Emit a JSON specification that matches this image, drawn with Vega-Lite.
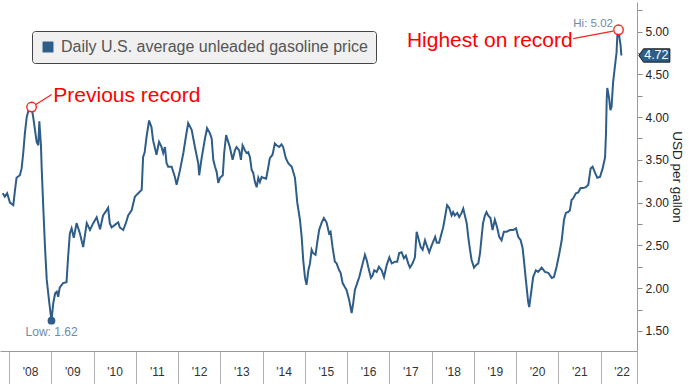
{
  "$schema": "https://vega.github.io/schema/vega-lite/v6.json",
  "width": 637,
  "height": 349,
  "autosize": {"type": "none"},
  "padding": {"left": 0, "top": 2, "right": 54, "bottom": 33},
  "background": "white",
  "config": {"view": {"stroke": null}, "font": "Liberation Sans"},
  "datasets": {
    "price": [
      {"date": "2007-11-07", "value": 3.11}, {"date": "2007-11-26", "value": 3.07}, {"date": "2007-12-16", "value": 3.11},
      {"date": "2008-01-09", "value": 3.00}, {"date": "2008-02-07", "value": 2.97}, {"date": "2008-02-22", "value": 3.15},
      {"date": "2008-03-06", "value": 3.29}, {"date": "2008-04-04", "value": 3.32}, {"date": "2008-04-19", "value": 3.40},
      {"date": "2008-05-03", "value": 3.58}, {"date": "2008-05-17", "value": 3.81}, {"date": "2008-06-02", "value": 4.00},
      {"date": "2008-06-24", "value": 4.11}, {"date": "2008-07-14", "value": 4.114}, {"date": "2008-07-28", "value": 4.00},
      {"date": "2008-08-27", "value": 3.71}, {"date": "2008-09-10", "value": 3.67}, {"date": "2008-09-19", "value": 3.95},
      {"date": "2008-10-03", "value": 3.67}, {"date": "2008-10-09", "value": 3.42}, {"date": "2008-10-23", "value": 2.95},
      {"date": "2008-11-07", "value": 2.48}, {"date": "2008-11-22", "value": 2.10}, {"date": "2008-12-14", "value": 1.83},
      {"date": "2009-01-02", "value": 1.62}, {"date": "2009-01-18", "value": 1.83}, {"date": "2009-02-03", "value": 1.94},
      {"date": "2009-02-17", "value": 1.96}, {"date": "2009-03-01", "value": 1.90}, {"date": "2009-03-15", "value": 2.01},
      {"date": "2009-04-13", "value": 2.06}, {"date": "2009-05-12", "value": 2.07}, {"date": "2009-05-26", "value": 2.37},
      {"date": "2009-06-10", "value": 2.64}, {"date": "2009-06-25", "value": 2.70}, {"date": "2009-07-14", "value": 2.59},
      {"date": "2009-08-07", "value": 2.76}, {"date": "2009-09-05", "value": 2.64}, {"date": "2009-10-03", "value": 2.48},
      {"date": "2009-11-03", "value": 2.76}, {"date": "2009-12-01", "value": 2.68}, {"date": "2009-12-29", "value": 2.76},
      {"date": "2010-01-28", "value": 2.83}, {"date": "2010-02-26", "value": 2.69}, {"date": "2010-03-24", "value": 2.85},
      {"date": "2010-04-23", "value": 2.91}, {"date": "2010-05-07", "value": 2.94}, {"date": "2010-05-21", "value": 2.76},
      {"date": "2010-06-06", "value": 2.71}, {"date": "2010-07-04", "value": 2.74}, {"date": "2010-08-02", "value": 2.77},
      {"date": "2010-08-16", "value": 2.71}, {"date": "2010-09-14", "value": 2.68}, {"date": "2010-10-07", "value": 2.76},
      {"date": "2010-10-27", "value": 2.85}, {"date": "2010-11-26", "value": 2.91}, {"date": "2010-12-24", "value": 3.07},
      {"date": "2011-01-22", "value": 3.11}, {"date": "2011-02-21", "value": 3.15}, {"date": "2011-03-05", "value": 3.53},
      {"date": "2011-03-19", "value": 3.59}, {"date": "2011-04-04", "value": 3.77}, {"date": "2011-04-26", "value": 3.96},
      {"date": "2011-05-17", "value": 3.88}, {"date": "2011-05-30", "value": 3.73}, {"date": "2011-06-29", "value": 3.56},
      {"date": "2011-07-21", "value": 3.71}, {"date": "2011-08-12", "value": 3.65}, {"date": "2011-08-26", "value": 3.58},
      {"date": "2011-09-10", "value": 3.65}, {"date": "2011-09-24", "value": 3.46}, {"date": "2011-10-08", "value": 3.42},
      {"date": "2011-11-07", "value": 3.42}, {"date": "2011-12-05", "value": 3.30}, {"date": "2011-12-20", "value": 3.21},
      {"date": "2012-01-18", "value": 3.38}, {"date": "2012-02-16", "value": 3.58}, {"date": "2012-03-09", "value": 3.77},
      {"date": "2012-03-29", "value": 3.93}, {"date": "2012-04-28", "value": 3.85}, {"date": "2012-05-26", "value": 3.65},
      {"date": "2012-06-24", "value": 3.46}, {"date": "2012-07-02", "value": 3.32}, {"date": "2012-07-23", "value": 3.52},
      {"date": "2012-08-21", "value": 3.75}, {"date": "2012-09-08", "value": 3.87}, {"date": "2012-10-03", "value": 3.81},
      {"date": "2012-10-18", "value": 3.75}, {"date": "2012-11-01", "value": 3.50}, {"date": "2012-11-16", "value": 3.42},
      {"date": "2012-11-30", "value": 3.36}, {"date": "2012-12-14", "value": 3.23}, {"date": "2012-12-29", "value": 3.29},
      {"date": "2013-01-22", "value": 3.32}, {"date": "2013-02-03", "value": 3.58}, {"date": "2013-02-20", "value": 3.79},
      {"date": "2013-03-10", "value": 3.71}, {"date": "2013-03-24", "value": 3.65}, {"date": "2013-04-17", "value": 3.50},
      {"date": "2013-05-07", "value": 3.61}, {"date": "2013-05-21", "value": 3.65}, {"date": "2013-06-13", "value": 3.61},
      {"date": "2013-06-28", "value": 3.50}, {"date": "2013-07-12", "value": 3.67}, {"date": "2013-08-02", "value": 3.61},
      {"date": "2013-08-16", "value": 3.58}, {"date": "2013-08-30", "value": 3.59}, {"date": "2013-09-14", "value": 3.53},
      {"date": "2013-09-29", "value": 3.38}, {"date": "2013-10-12", "value": 3.35}, {"date": "2013-10-27", "value": 3.24},
      {"date": "2013-11-11", "value": 3.18}, {"date": "2013-11-25", "value": 3.29}, {"date": "2013-12-09", "value": 3.24},
      {"date": "2013-12-24", "value": 3.30}, {"date": "2014-01-08", "value": 3.29}, {"date": "2014-02-01", "value": 3.28},
      {"date": "2014-02-20", "value": 3.42}, {"date": "2014-03-05", "value": 3.52}, {"date": "2014-03-28", "value": 3.56},
      {"date": "2014-04-17", "value": 3.69}, {"date": "2014-05-02", "value": 3.67}, {"date": "2014-05-24", "value": 3.65},
      {"date": "2014-06-14", "value": 3.68}, {"date": "2014-06-28", "value": 3.65}, {"date": "2014-07-21", "value": 3.52},
      {"date": "2014-08-11", "value": 3.46}, {"date": "2014-09-10", "value": 3.42}, {"date": "2014-10-08", "value": 3.29},
      {"date": "2014-10-28", "value": 3.00}, {"date": "2014-11-20", "value": 2.80}, {"date": "2014-12-05", "value": 2.60},
      {"date": "2014-12-19", "value": 2.32}, {"date": "2015-01-03", "value": 2.12}, {"date": "2015-01-16", "value": 2.04},
      {"date": "2015-02-01", "value": 2.21}, {"date": "2015-02-15", "value": 2.29}, {"date": "2015-03-01", "value": 2.45},
      {"date": "2015-03-14", "value": 2.41}, {"date": "2015-04-04", "value": 2.39}, {"date": "2015-04-18", "value": 2.53},
      {"date": "2015-05-05", "value": 2.68}, {"date": "2015-05-25", "value": 2.76}, {"date": "2015-06-15", "value": 2.82},
      {"date": "2015-07-08", "value": 2.77}, {"date": "2015-07-30", "value": 2.64}, {"date": "2015-08-12", "value": 2.66},
      {"date": "2015-08-29", "value": 2.48}, {"date": "2015-09-18", "value": 2.31}, {"date": "2015-10-03", "value": 2.29},
      {"date": "2015-10-25", "value": 2.21}, {"date": "2015-11-07", "value": 2.18}, {"date": "2015-11-24", "value": 2.06},
      {"date": "2015-12-14", "value": 2.01}, {"date": "2015-12-28", "value": 1.98}, {"date": "2016-01-20", "value": 1.86},
      {"date": "2016-02-10", "value": 1.71}, {"date": "2016-02-24", "value": 1.83}, {"date": "2016-03-09", "value": 1.98},
      {"date": "2016-03-29", "value": 2.06}, {"date": "2016-04-16", "value": 2.13}, {"date": "2016-05-06", "value": 2.24},
      {"date": "2016-06-04", "value": 2.39}, {"date": "2016-06-19", "value": 2.33}, {"date": "2016-07-02", "value": 2.25},
      {"date": "2016-07-26", "value": 2.12}, {"date": "2016-08-10", "value": 2.15}, {"date": "2016-08-23", "value": 2.21},
      {"date": "2016-09-14", "value": 2.19}, {"date": "2016-10-03", "value": 2.25}, {"date": "2016-10-26", "value": 2.21},
      {"date": "2016-11-16", "value": 2.13}, {"date": "2016-12-09", "value": 2.27}, {"date": "2017-01-01", "value": 2.36},
      {"date": "2017-01-22", "value": 2.29}, {"date": "2017-02-20", "value": 2.31}, {"date": "2017-03-10", "value": 2.31},
      {"date": "2017-03-27", "value": 2.41}, {"date": "2017-04-17", "value": 2.42}, {"date": "2017-05-07", "value": 2.35},
      {"date": "2017-05-24", "value": 2.38}, {"date": "2017-06-13", "value": 2.29}, {"date": "2017-06-28", "value": 2.24},
      {"date": "2017-07-21", "value": 2.29}, {"date": "2017-08-10", "value": 2.36}, {"date": "2017-08-25", "value": 2.66},
      {"date": "2017-09-08", "value": 2.59}, {"date": "2017-09-29", "value": 2.48}, {"date": "2017-10-16", "value": 2.45},
      {"date": "2017-11-05", "value": 2.56}, {"date": "2017-11-25", "value": 2.48}, {"date": "2017-12-12", "value": 2.42},
      {"date": "2018-01-02", "value": 2.50}, {"date": "2018-02-01", "value": 2.60}, {"date": "2018-02-15", "value": 2.53},
      {"date": "2018-03-07", "value": 2.53}, {"date": "2018-03-28", "value": 2.64}, {"date": "2018-04-11", "value": 2.71},
      {"date": "2018-04-26", "value": 2.82}, {"date": "2018-05-15", "value": 2.97}, {"date": "2018-06-02", "value": 2.94},
      {"date": "2018-06-23", "value": 2.85}, {"date": "2018-07-06", "value": 2.89}, {"date": "2018-07-21", "value": 2.85},
      {"date": "2018-08-11", "value": 2.88}, {"date": "2018-08-28", "value": 2.83}, {"date": "2018-09-18", "value": 2.88},
      {"date": "2018-10-02", "value": 2.93}, {"date": "2018-10-16", "value": 2.85}, {"date": "2018-11-01", "value": 2.76},
      {"date": "2018-11-14", "value": 2.60}, {"date": "2018-11-29", "value": 2.45}, {"date": "2018-12-13", "value": 2.33},
      {"date": "2019-01-03", "value": 2.24}, {"date": "2019-01-20", "value": 2.27}, {"date": "2019-02-09", "value": 2.29},
      {"date": "2019-02-24", "value": 2.41}, {"date": "2019-03-09", "value": 2.59}, {"date": "2019-03-22", "value": 2.76},
      {"date": "2019-04-07", "value": 2.85}, {"date": "2019-04-21", "value": 2.89}, {"date": "2019-05-05", "value": 2.85},
      {"date": "2019-05-25", "value": 2.82}, {"date": "2019-06-12", "value": 2.68}, {"date": "2019-07-02", "value": 2.80},
      {"date": "2019-07-22", "value": 2.71}, {"date": "2019-08-09", "value": 2.60}, {"date": "2019-08-29", "value": 2.56},
      {"date": "2019-09-18", "value": 2.66}, {"date": "2019-10-12", "value": 2.66}, {"date": "2019-11-10", "value": 2.68},
      {"date": "2019-12-08", "value": 2.68}, {"date": "2020-01-01", "value": 2.70}, {"date": "2020-01-20", "value": 2.60},
      {"date": "2020-02-10", "value": 2.56}, {"date": "2020-02-27", "value": 2.47}, {"date": "2020-03-09", "value": 2.33},
      {"date": "2020-03-26", "value": 2.10}, {"date": "2020-04-15", "value": 1.84}, {"date": "2020-04-24", "value": 1.78},
      {"date": "2020-05-14", "value": 1.98}, {"date": "2020-05-28", "value": 2.13}, {"date": "2020-06-21", "value": 2.21},
      {"date": "2020-07-10", "value": 2.19}, {"date": "2020-08-10", "value": 2.24}, {"date": "2020-09-07", "value": 2.19},
      {"date": "2020-10-06", "value": 2.18}, {"date": "2020-11-05", "value": 2.12}, {"date": "2020-11-24", "value": 2.13},
      {"date": "2020-12-17", "value": 2.25}, {"date": "2021-01-10", "value": 2.41}, {"date": "2021-01-30", "value": 2.56},
      {"date": "2021-02-19", "value": 2.80}, {"date": "2021-03-07", "value": 2.88}, {"date": "2021-03-27", "value": 2.89},
      {"date": "2021-04-11", "value": 2.91}, {"date": "2021-04-25", "value": 3.03}, {"date": "2021-05-09", "value": 3.05},
      {"date": "2021-06-02", "value": 3.11}, {"date": "2021-06-22", "value": 3.12}, {"date": "2021-07-12", "value": 3.17},
      {"date": "2021-08-04", "value": 3.17}, {"date": "2021-08-27", "value": 3.18}, {"date": "2021-09-17", "value": 3.21},
      {"date": "2021-10-07", "value": 3.40}, {"date": "2021-10-24", "value": 3.42}, {"date": "2021-11-14", "value": 3.35},
      {"date": "2021-12-04", "value": 3.29}, {"date": "2021-12-27", "value": 3.30}, {"date": "2022-01-19", "value": 3.40},
      {"date": "2022-02-09", "value": 3.53}, {"date": "2022-02-17", "value": 3.81}, {"date": "2022-02-23", "value": 4.20},
      {"date": "2022-02-28", "value": 4.34}, {"date": "2022-03-15", "value": 4.23}, {"date": "2022-03-27", "value": 4.08},
      {"date": "2022-04-06", "value": 4.12}, {"date": "2022-04-19", "value": 4.40}, {"date": "2022-05-04", "value": 4.58},
      {"date": "2022-05-19", "value": 4.75}, {"date": "2022-05-27", "value": 4.98}, {"date": "2022-06-05", "value": 5.02},
      {"date": "2022-06-16", "value": 4.90}, {"date": "2022-06-23", "value": 4.84}, {"date": "2022-06-28", "value": 4.75},
      {"date": "2022-06-30", "value": 4.72}
    ],
    "records": [
      {"date": "2008-07-14", "value": 4.117},
      {"date": "2022-06-05", "value": 5.02}
    ],
    "low": [{"date": "2009-01-02", "value": 1.62}],
    "connectors": [
      {"date": "2008-08-13", "value": 4.14, "date2": "2009-01-04", "value2": 4.265},
      {"date": "2021-05-09", "value": 4.917, "date2": "2022-04-19", "value2": 5.005}
    ],
    "noteLeft": [{"date": "2009-01-18", "value": 4.179, "label": "Previous record"}],
    "noteRight": [{"date": "2021-05-05", "value": 4.821, "label": "Highest on record"}],
    "hiLabel": [{"date": "2022-04-18", "value": 5.051, "label": "Hi: 5.02"}],
    "lowLabel": [{"date": "2009-01-03", "value": 1.447, "label": "Low: 1.62"}],
    "last": [{"date": "2023-04-11", "value": 4.72}]
  },
  "encoding": {
    "x": {
      "field": "date",
      "type": "temporal",
      "title": null,
      "scale": {
        "domain": [{"year": 2007, "month": 10, "date": 15}, {"year": 2022, "month": 11, "date": 12}],
        "nice": false
      },
      "axis": {
        "values": [
          {"year": 2008, "month": 1, "date": 1}, {"year": 2009, "month": 1, "date": 1}, {"year": 2010, "month": 1, "date": 1},
          {"year": 2011, "month": 1, "date": 1}, {"year": 2012, "month": 1, "date": 1}, {"year": 2013, "month": 1, "date": 1},
          {"year": 2014, "month": 1, "date": 1}, {"year": 2015, "month": 1, "date": 1}, {"year": 2016, "month": 1, "date": 1},
          {"year": 2017, "month": 1, "date": 1}, {"year": 2018, "month": 1, "date": 1}, {"year": 2019, "month": 1, "date": 1},
          {"year": 2020, "month": 1, "date": 1}, {"year": 2021, "month": 1, "date": 1}, {"year": 2022, "month": 1, "date": 1},
          {"year": 2022, "month": 11, "date": 12}
        ],
        "labelExpr": "month(datum.value) == 0 ? timeFormat(datum.value, \"'%y\") : ''",
        "grid": false,
        "domainColor": "#9a9a9a",
        "tickColor": "#b0b0b0",
        "tickSize": 33,
        "labelPadding": -18,
        "labelOffset": 21,
        "labelFlush": false,
        "labelOverlap": false,
        "labelFontSize": 12,
        "labelColor": "#333333",
        "labelFont": "Liberation Sans"
      }
    },
    "y": {
      "field": "value",
      "type": "quantitative",
      "scale": {"domain": [1.266, 5.345], "nice": false, "zero": false},
      "axis": {
        "orient": "right",
        "title": "USD per gallon",
        "values": [1.5, 1.75, 2, 2.25, 2.5, 2.75, 3, 3.25, 3.5, 3.75, 4, 4.25, 4.5, 4.75, 5, 5.25],
        "labelExpr": "(datum.value * 4) % 2 == 0 ? format(datum.value, '.2f') : ''",
        "grid": false,
        "domainColor": "#9a9a9a",
        "tickColor": "#8a8a8a",
        "tickSize": 5,
        "labelPadding": 3,
        "labelOverlap": false,
        "labelFontSize": 12,
        "labelColor": "#222222",
        "labelFont": "Liberation Sans",
        "titleFont": "Liberation Sans",
        "titleFontSize": 13.5,
        "titleFontWeight": "normal",
        "titleColor": "#222222",
        "titlePadding": 1
      }
    }
  },
  "layer": [
    {
      "data": {"name": "price"},
      "mark": {"type": "line", "strokeWidth": 2, "interpolate": "linear"},
      "encoding": {
        "color": {
          "datum": "Daily U.S. average unleaded gasoline price",
          "type": "nominal",
          "scale": {"range": ["#2f5d8a"]},
          "legend": {
            "orient": "none",
            "legendX": 32,
            "legendY": 29,
            "title": null,
            "fillColor": "#f0f0f0",
            "strokeColor": "#444444",
            "cornerRadius": 3,
            "padding": 8,
            "symbolType": "square",
            "symbolSize": 120,
            "symbolFillColor": "#2f5d8a",
            "symbolStrokeColor": "#2f5d8a",
            "symbolStrokeWidth": 0,
            "labelFontSize": 16,
            "labelColor": "#555555",
            "labelFont": "Liberation Sans",
            "labelOffset": 5,
            "labelLimit": 400,
            "encode": {
              "symbols": {
                "update": {
                  "fill": {"value": "#2f5d8a"},
                  "stroke": {"value": "#2f5d8a"},
                  "shape": {"value": "square"},
                  "opacity": {"value": 1}
                }
              }
            }
          }
        }
      }
    },
    {
      "data": {"name": "connectors"},
      "mark": {"type": "rule", "color": "#ff2020", "strokeWidth": 1.2},
      "encoding": {
        "x2": {"field": "date2"},
        "y2": {"field": "value2"}
      }
    },
    {
      "data": {"name": "records"},
      "mark": {"type": "point", "shape": "circle", "size": 90, "filled": true, "fill": "white", "stroke": "#ff2020", "strokeWidth": 1.4, "opacity": 1}
    },
    {
      "data": {"name": "low"},
      "mark": {"type": "point", "shape": "circle", "size": 60, "filled": true, "color": "#2f5d8a", "opacity": 1}
    },
    {
      "data": {"name": "noteLeft"},
      "mark": {"type": "text", "align": "left", "baseline": "alphabetic", "fontSize": 21, "color": "#ff0000", "font": "Liberation Sans"},
      "encoding": {"text": {"field": "label"}}
    },
    {
      "data": {"name": "noteRight"},
      "mark": {"type": "text", "align": "right", "baseline": "alphabetic", "fontSize": 21, "color": "#ff0000", "font": "Liberation Sans"},
      "encoding": {"text": {"field": "label"}}
    },
    {
      "data": {"name": "hiLabel"},
      "mark": {"type": "text", "align": "right", "baseline": "alphabetic", "fontSize": 11.5, "color": "#6f8aa8", "font": "Liberation Sans"},
      "encoding": {"text": {"field": "label"}}
    },
    {
      "data": {"name": "lowLabel"},
      "mark": {"type": "text", "align": "center", "baseline": "alphabetic", "fontSize": 12, "color": "#6f8aa8", "font": "Liberation Sans"},
      "encoding": {"text": {"field": "label"}}
    },
    {
      "data": {"name": "last"},
      "mark": {"type": "point", "shape": "M-1,0L-0.7,-0.43L1,-0.43L1,0.43L-0.7,0.43Z", "size": 961, "filled": true, "fill": "#2f5d8a", "stroke": "#1c1c1c", "strokeWidth": 1, "opacity": 1}
    },
    {
      "data": {"name": "last"},
      "mark": {"type": "text", "align": "center", "baseline": "middle", "dx": 2, "fontSize": 12.5, "color": "white", "font": "Liberation Sans"},
      "encoding": {"text": {"field": "value", "type": "quantitative", "format": ".2f"}}
    }
  ]
}
